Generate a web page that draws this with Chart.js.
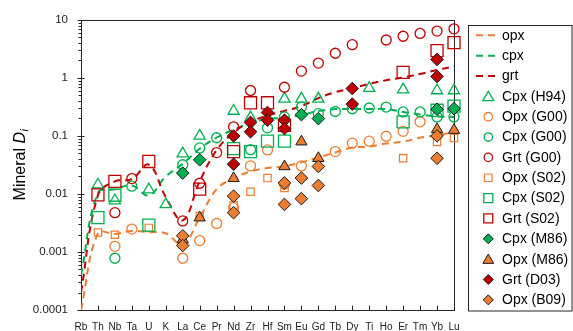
<!DOCTYPE html>
<html>
<head>
<meta charset="utf-8">
<script src="https://cdn.jsdelivr.net/npm/chart.js@4.4.1/dist/chart.umd.min.js"></script>
<style>
html,body{margin:0;padding:0;background:#fff;}
#wrap{width:573px;height:331px;position:relative;overflow:hidden;}
canvas{display:block;}
</style>
</head>
<body>
<div id="wrap"><canvas id="c" width="573" height="331"></canvas></div>
<script>
// ---------- data ----------
const categories = ['Rb','Th','Nb','Ta','U','K','La','Ce','Pr','Nd','Zr','Hf','Sm','Eu','Gd','Tb','Dy','Ti','Ho','Er','Tm','Yb','Lu'];
const yTickLabels = ['0.0001','0.001','0.01','0.1','1','10'];

// model curves (dashed)
const opxModel = [0.0001,0.0021,0.00205,0.0023,0.0022,0.0021,0.00134,0.0039,0.0121,0.0186,0.0245,0.028,0.030,0.035,0.0425,0.052,0.063,0.0655,0.074,0.080,0.093,0.103,0.116];
const cpxModel = [0.0004,0.0105,0.012,0.014,0.0095,0.02,0.033,0.06,0.094,0.128,0.168,0.197,0.205,0.23,0.269,0.29,0.29,0.29,0.29,0.259,0.234,0.217,0.213];
const grtModel = [0.0002,0.0095,0.0165,0.018,0.032,0.0088,0.0035,0.0165,0.057,0.114,0.175,0.225,0.27,0.327,0.449,0.568,0.665,0.79,0.91,1.02,1.17,1.37,1.58];

// measured partition coefficients
const cpxH94Cats = ['Th','Nb','U','K','La','Ce','Nd','Zr','Sm','Eu','Gd','Ti','Er','Yb','Lu'];
const cpxH94Vals = [0.0144,0.0077,0.0119,0.0066,0.0497,0.1,0.269,0.207,0.436,0.436,0.436,0.665,0.63,0.607,0.607];

const opxG00Cats = ['Nb','Ta','La','Ce','Pr','Nd','Zr','Hf','Sm','Eu','Tb','Dy','Ti','Ho','Er','Tm'];
const opxG00Vals = [0.00125,0.00248,0.00078,0.00157,0.0031,0.0058,0.0304,0.0574,0.0147,0.0304,0.0537,0.075,0.0813,0.0988,0.12,0.175];

const cpxG00Cats = ['Nb','Ta','La','Ce','Pr','Zr','Hf','Sm','Eu','Gd','Tb','Dy','Ti','Ho','Er','Tm','Yb','Lu'];
const cpxG00Vals = [0.00078,0.0136,0.0319,0.0622,0.093,0.058,0.138,0.213,0.315,0.242,0.264,0.294,0.303,0.315,0.259,0.259,0.213,0.213];

const grtG00Cats = ['Nb','Ta','La','Ce','Pr','Nd','Zr','Sm','Eu','Gd','Tb','Dy','Ho','Er','Tm','Yb','Lu'];
const grtG00Vals = [0.00476,0.0184,0.00343,0.0153,0.0517,0.1436,0.607,0.691,1.31,1.80,2.66,3.74,4.5,5.23,5.84,6.41,7.02];

const opxS02Cats = ['Th','Nb','U','Ce','Nd','Zr','Hf','Sm','Er','Yb','Lu'];
const opxS02Vals = [0.00217,0.00198,0.0026,0.00418,0.0064,0.0109,0.0188,0.0127,0.0413,0.0787,0.092];

const cpxS02Cats = ['Th','Nb','U','Nd','Zr','Hf','Sm','Er','Yb','Lu'];
const cpxS02Vals = [0.0039,0.0095,0.0029,0.0605,0.0537,0.0813,0.0813,0.175,0.277,0.327];

const grtS02Cats = ['Th','Nb','U','Ce','Nd','Zr','Hf','Sm','Er','Yb','Lu'];
const grtS02Vals = [0.00966,0.0165,0.0363,0.0121,0.0537,0.373,0.373,0.153,1.25,2.96,4.05];

const cpxM86Cats = ['La','Ce','Eu','Gd','Yb','Lu'];
const cpxM86Vals = [0.0229,0.0388,0.233,0.199,0.288,0.295];

const opxM86Cats = ['La','Ce','Nd','Sm','Eu','Gd','Yb','Lu'];
const opxM86Vals = [0.00163,0.0039,0.0186,0.0298,0.0796,0.0413,0.130,0.126];

const grtD03Cats = ['Nd','Nd','Zr','Zr','Hf','Hf','Sm','Sm','Dy','Dy','Yb','Yb'];
const grtD03Vals = [0.1,0.0326,0.171,0.118,0.254,0.187,0.187,0.134,0.656,0.354,2.08,1.06];

const opxB09Cats = ['La','La','Nd','Nd','Sm','Sm','Eu','Eu','Gd','Gd','Yb','Yb'];
const opxB09Vals = [0.0019,0.00129,0.00917,0.00476,0.0155,0.0066,0.0188,0.0083,0.0298,0.014,0.1,0.0413];

// ---------- styles ----------
const ORANGE = '#ED7D31', GREEN = '#00B050', RED = '#C00000', NONE = 'rgba(0,0,0,0)', EDGE = '#1a1a1a';
const FONT = '"Liberation Sans", Arial, sans-serif';

function lineDs(label, data, color) {
  return { type: 'line', label, data, borderColor: color, borderWidth: 2, borderDash: [7, 5],
    pointRadius: 0, tension: 0.4, fill: false, clip: 0,
    legend: { kind: 'line', color } };
}
function ptDs(label, cats, vals, style, radius, fill, stroke, bw, lg) {
  return { type: 'line', showLine: false, label,
    data: cats.map((c, i) => ({ x: c, y: vals[i] })),
    pointStyle: style, pointRadius: radius, pointHoverRadius: radius,
    pointBackgroundColor: fill, pointBorderColor: stroke, pointBorderWidth: bw, clip: false,
    legend: Object.assign({ kind: 'point', style, fill, stroke, bw }, lg) };
}

const datasets = [
  lineDs('opx', opxModel, ORANGE),
  lineDs('cpx', cpxModel, GREEN),
  lineDs('grt', grtModel, RED),
  ptDs('Cpx (H94)', cpxH94Cats, cpxH94Vals, 'triangle', 6.5, NONE, GREEN, 1.3, { r: 6 }),
  ptDs('Opx (G00)', opxG00Cats, opxG00Vals, 'circle', 5, NONE, ORANGE, 1.3, { r: 4.2 }),
  ptDs('Cpx (G00)', cpxG00Cats, cpxG00Vals, 'circle', 5, NONE, GREEN, 1.3, { r: 4.2 }),
  ptDs('Grt (G00)', grtG00Cats, grtG00Vals, 'circle', 5, NONE, RED, 1.3, { r: 4.2 }),
  ptDs('Opx (S02)', opxS02Cats, opxS02Vals, 'rect', 5.2, NONE, ORANGE, 1.2, { r: 5 }),
  ptDs('Cpx (S02)', cpxS02Cats, cpxS02Vals, 'rect', 8.5, NONE, GREEN, 1.3, { r: 6 }),
  ptDs('Grt (S02)', grtS02Cats, grtS02Vals, 'rect', 8.5, NONE, RED, 1.3, { r: 6 }),
  ptDs('Cpx (M86)', cpxM86Cats, cpxM86Vals, 'rectRot', 6.3, GREEN, EDGE, 1, { r: 5 }),
  ptDs('Opx (M86)', opxM86Cats, opxM86Vals, 'triangle', 6.5, ORANGE, EDGE, 1, { r: 6 }),
  ptDs('Grt (D03)', grtD03Cats, grtD03Vals, 'rectRot', 6.3, RED, EDGE, 1, { r: 5 }),
  ptDs('Opx (B09)', opxB09Cats, opxB09Vals, 'rectRot', 6.3, ORANGE, EDGE, 1, { r: 5 })
];
// later series drawn on top (as in the source)
datasets.forEach((d, i) => { d.order = datasets.length - i; });

// ---------- marker helper for the legend ----------
function marker(ctx, style, x, y, r) {
  ctx.beginPath();
  if (style === 'circle') {
    ctx.arc(x, y, r, 0, Math.PI * 2);
  } else if (style === 'triangle') {
    ctx.moveTo(x, y - r * 0.85);
    ctx.lineTo(x + r * 0.9, y + r * 0.7);
    ctx.lineTo(x - r * 0.9, y + r * 0.7);
    ctx.closePath();
  } else if (style === 'rect') {
    const h = r * 0.75;
    ctx.rect(x - h, y - h, 2 * h, 2 * h);
  } else if (style === 'rectRot') {
    ctx.moveTo(x - r, y); ctx.lineTo(x, y - r); ctx.lineTo(x + r, y); ctx.lineTo(x, y + r);
    ctx.closePath();
  }
}

// ---------- decoration plugin (frame, ticks, axis title, legend) ----------
const decor = {
  id: 'decor',
  beforeDatasetsDraw(chart) {
    const { ctx, chartArea: a, scales: { x, y } } = chart;
    const L = Math.round(a.left) + 0.5, R = Math.round(a.right) + 0.5;
    const T = Math.round(a.top) + 0.5, B = Math.round(a.bottom) + 0.5;
    ctx.save();
    ctx.strokeStyle = '#262626';
    ctx.lineWidth = 1;
    ctx.strokeRect(L, T, R - L, B - T);
    // y ticks (major + minor)
    for (let e = -4; e <= 1; e++) {
      for (let m = 1; m <= 9; m++) {
        const v = m * Math.pow(10, e);
        if (v > 10.0001) break;
        const py = Math.round(y.getPixelForValue(v)) + 0.5;
        ctx.beginPath();
        if (m === 1) { ctx.moveTo(L - 4, py); ctx.lineTo(L + 3, py); }
        else { ctx.moveTo(L - 3, py); ctx.lineTo(L, py); }
        ctx.stroke();
      }
    }
    // x ticks (inside)
    categories.forEach((c, i) => {
      const px = Math.round(x.getPixelForValue(i)) + 0.5;
      ctx.beginPath(); ctx.moveTo(px, B); ctx.lineTo(px, B - 5); ctx.stroke();
    });
    ctx.restore();
  },
  afterDraw(chart) {
    const ctx = chart.ctx;
    ctx.save();
    // y-axis title: Mineral D_i
    ctx.translate(24.5, 165);
    ctx.rotate(-Math.PI / 2);
    ctx.fillStyle = '#000';
    ctx.textBaseline = 'alphabetic';
    const f1 = '16px ' + FONT, f2 = 'italic 16px ' + FONT, f3 = 'italic 11px ' + FONT;
    ctx.font = f1; const w1 = ctx.measureText('Mineral ').width;
    ctx.font = f2; const w2 = ctx.measureText('D').width;
    ctx.font = f3; const w3 = ctx.measureText('i').width;
    let sx = -(w1 + w2 + w3) / 2;
    ctx.font = f1; ctx.fillText('Mineral ', sx, 0);
    ctx.font = f2; ctx.fillText('D', sx + w1, 0);
    ctx.font = f3; ctx.fillText('i', sx + w1 + w2 + 0.5, 3);
    ctx.restore();

    // legend
    ctx.save();
    ctx.strokeStyle = '#262626';
    ctx.lineWidth = 1;
    ctx.strokeRect(468.5, 25.5, 103.5, 285.5);
    const y0 = 35.3, step = 20.35, mx = 488.3, tx = 502;
    ctx.font = '14px ' + FONT;
    ctx.textBaseline = 'middle';
    chart.data.datasets.forEach((d, i) => {
      const yy = y0 + i * step;
      const lg = d.legend;
      if (lg.kind === 'line') {
        ctx.save();
        ctx.strokeStyle = lg.color; ctx.lineWidth = 2; ctx.setLineDash([7, 5]);
        ctx.beginPath(); ctx.moveTo(476, yy); ctx.lineTo(496, yy); ctx.stroke();
        ctx.restore();
      } else {
        ctx.save();
        ctx.fillStyle = lg.fill; ctx.strokeStyle = lg.stroke; ctx.lineWidth = lg.bw;
        marker(ctx, lg.style, mx, yy, lg.r);
        ctx.fill(); ctx.stroke();
        ctx.restore();
      }
      ctx.fillStyle = '#000';
      ctx.fillText(d.label, tx, yy + 0.5);
    });
    ctx.restore();
  }
};

new Chart(document.getElementById('c'), {
  type: 'line',
  data: { labels: categories, datasets },
  options: {
    responsive: false,
    animation: false,
    devicePixelRatio: 1,
    events: [],
    layout: { padding: { left: 0, top: 17, right: 119, bottom: 0 } },
    plugins: { legend: { display: false }, tooltip: { enabled: false } },
    scales: {
      x: {
        type: 'category',
        offset: false,
        grid: { display: false, drawTicks: false },
        border: { display: false },
        ticks: { autoSkip: false, maxRotation: 0, minRotation: 0, padding: 11.5,
          color: '#222', font: { family: FONT, size: 10 } },
        afterFit: s => { s.height = 21; }
      },
      y: {
        type: 'logarithmic',
        min: 0.0001,
        max: 10,
        grid: { display: false, drawTicks: false },
        border: { display: false },
        ticks: {
          autoSkip: false, padding: 13, color: '#222', font: { family: FONT, size: 11.5 },
          callback: v => {
            const lg = Math.log10(v);
            if (Math.abs(lg - Math.round(lg)) < 1e-6) {
              const idx = Math.round(lg) + 4;
              return yTickLabels[idx] !== undefined ? yTickLabels[idx] : '';
            }
            return '';
          }
        },
        afterFit: s => { s.width = 81; }
      }
    }
  },
  plugins: [decor]
});
</script>
</body>
</html>
